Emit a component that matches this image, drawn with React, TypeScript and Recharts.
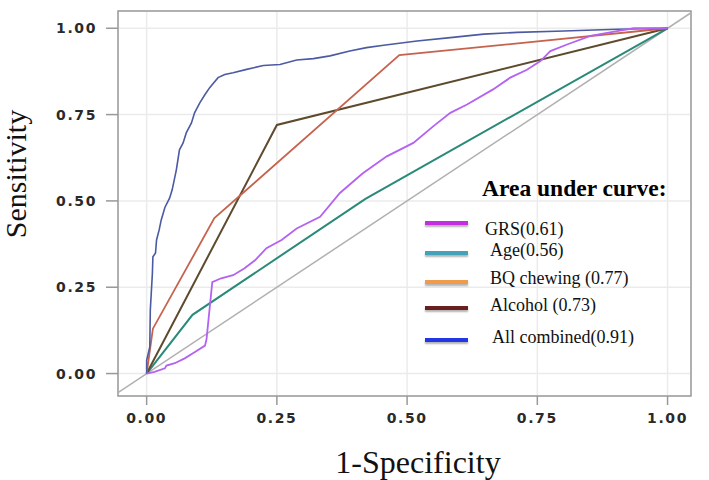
import React from 'react';
import { LineChart, Line, XAxis, YAxis, CartesianGrid, ReferenceArea } from 'recharts';

// ---- data ----
const tickValues = [0, 0.25, 0.5, 0.75, 1];

const allX = [0, 0, 0.006, 0.007, 0.011, 0.012, 0.017, 0.019, 0.024, 0.028, 0.035, 0.044, 0.049, 0.057, 0.063, 0.07, 0.076, 0.086, 0.092, 0.102, 0.112, 0.121, 0.137, 0.15, 0.166, 0.192, 0.224, 0.256, 0.288, 0.32, 0.352, 0.39, 0.422, 0.455, 0.519, 0.583, 0.647, 0.711, 0.801, 0.903, 1];
const allY = [0, 0.038, 0.077, 0.183, 0.29, 0.338, 0.349, 0.387, 0.416, 0.445, 0.481, 0.508, 0.532, 0.59, 0.648, 0.668, 0.697, 0.726, 0.755, 0.784, 0.808, 0.828, 0.857, 0.866, 0.871, 0.881, 0.892, 0.895, 0.908, 0.912, 0.92, 0.934, 0.944, 0.951, 0.963, 0.973, 0.983, 0.988, 0.992, 0.997, 1];

const grsX = [0, 0.015, 0.035, 0.038, 0.054, 0.073, 0.092, 0.112, 0.115, 0.126, 0.143, 0.166, 0.188, 0.208, 0.23, 0.259, 0.288, 0.333, 0.371, 0.415, 0.461, 0.512, 0.55, 0.583, 0.615, 0.665, 0.698, 0.73, 0.756, 0.775, 0.807, 0.852, 0.903, 0.935, 1];
const grsY = [0, 0.005, 0.015, 0.023, 0.03, 0.044, 0.062, 0.081, 0.1, 0.265, 0.276, 0.285, 0.305, 0.328, 0.363, 0.387, 0.42, 0.454, 0.523, 0.58, 0.629, 0.668, 0.716, 0.755, 0.779, 0.823, 0.857, 0.88, 0.905, 0.934, 0.953, 0.978, 0.992, 1, 1];

const ageX = [0, 0.088, 0.42, 1];
const ageY = [0, 0.17, 0.506, 1];

const bqX = [0, 0.012, 0.13, 0.485, 1];
const bqY = [0, 0.13, 0.45, 0.922, 1];

const alcoholX = [0, 0.25, 1];
const alcoholY = [0, 0.72, 1];

const refX = [-0.055, 1.045];
const refY = [-0.055, 1.045];

const legendLabels = ['GRS(0.61)', 'Age(0.56)', 'BQ chewing (0.77)', 'Alcohol (0.73)', 'All combined(0.91)'];
const legendColors = ['#c22ee0', '#42a2b8', '#f09a4c', '#6a1f1f', '#2336e6'];

const zip = (xs: number[], ys: number[]) => xs.map((x, i) => ({ x, y: ys[i] }));

const refData = zip(refX, refY);
const ageData = zip(ageX, ageY);
const grsData = zip(grsX, grsY);
const alcoholData = zip(alcoholX, alcoholY);
const bqData = zip(bqX, bqY);
const allData = zip(allX, allY);

const tickStyle = { fontFamily: '"DejaVu Sans", Verdana, sans-serif', fontSize: 14, fontWeight: 600, fill: '#2a2a2a', letterSpacing: 1.6 };

// legend layout (page pixels)
const swatchTops = [223, 253, 282, 308, 340];
const textCenters = [229, 250, 278, 305, 337];
const textLefts = [485, 490, 490, 490, 492];

const serif = '"Liberation Serif", "Times New Roman", serif';

export default function App() {
  return (
    <div style={{ position: 'absolute', left: 0, top: 0, width: 709, height: 480, background: '#fff' }}>
      <LineChart width={709} height={480} margin={{ top: 11, right: 18, bottom: 54, left: 58 }}>
        <CartesianGrid stroke="#ebebeb" strokeWidth={1.5} />
        <XAxis
          type="number"
          dataKey="x"
          domain={[-0.055, 1.045]}
          ticks={tickValues}
          allowDataOverflow
          tickFormatter={(v: number) => v.toFixed(2)}
          height={30}
          tickSize={9}
          tickMargin={8}
          axisLine={false}
          tickLine={{ stroke: '#999', strokeWidth: 1.5 }}
          tick={tickStyle}
        />
        <YAxis
          type="number"
          dataKey="y"
          domain={[-0.065, 1.05]}
          ticks={tickValues}
          allowDataOverflow
          tickFormatter={(v: number) => v.toFixed(2)}
          width={60}
          tickSize={12}
          tickMargin={9}
          axisLine={false}
          tickLine={{ stroke: '#999', strokeWidth: 1.5 }}
          tick={tickStyle}
        />
        <ReferenceArea x1={-0.055} x2={1.045} y1={-0.065} y2={1.05} fill="none" stroke="#9a9a9a" strokeWidth={1.5} />
        <Line data={refData} dataKey="y" type="linear" dot={false} stroke="#b0b0b0" strokeWidth={1.5} isAnimationActive={false} />
        <Line data={ageData} dataKey="y" type="linear" dot={false} stroke="#2a8a7a" strokeWidth={2} isAnimationActive={false} />
        <Line data={alcoholData} dataKey="y" type="linear" dot={false} stroke="#5e4a2c" strokeWidth={2} isAnimationActive={false} />
        <Line data={bqData} dataKey="y" type="linear" dot={false} stroke="#c6634e" strokeWidth={1.8} isAnimationActive={false} />
        <Line data={allData} dataKey="y" type="linear" dot={false} stroke="#4b5aa2" strokeWidth={1.6} isAnimationActive={false} />
        <Line data={grsData} dataKey="y" type="linear" dot={false} stroke="#b462f2" strokeWidth={1.8} isAnimationActive={false} />
      </LineChart>

      {/* axis titles */}
      <div
        style={{
          position: 'absolute', left: 16 - 100, top: 174 - 16, width: 200, height: 32, lineHeight: '32px',
          textAlign: 'center', fontFamily: serif, fontSize: 30,
          color: '#111', transform: 'rotate(-90deg)', whiteSpace: 'nowrap',
        }}
      >
        Sensitivity
      </div>
      <div
        style={{
          position: 'absolute', left: 418 - 150, top: 446, width: 300, height: 32, lineHeight: '32px',
          textAlign: 'center', fontFamily: serif, fontSize: 32,
          color: '#111', whiteSpace: 'nowrap',
        }}
      >
        1-Specificity
      </div>

      {/* legend */}
      <div
        style={{
          position: 'absolute', left: 482, top: 175, lineHeight: '26px', fontFamily: serif,
          fontSize: 23.5, fontWeight: 'bold', color: '#000', whiteSpace: 'nowrap',
        }}
      >
        Area under curve:
      </div>
      {legendLabels.map((label, i) => (
        <React.Fragment key={label}>
          <div
            style={{
              position: 'absolute', left: 425, top: swatchTops[i] - 2, width: 43, height: 4,
              background: legendColors[i], boxShadow: '0 2px 2px rgba(0,0,0,0.3)',
            }}
          />
          <div
            style={{
              position: 'absolute', left: textLefts[i], top: textCenters[i] - 11, height: 22, lineHeight: '22px',
              fontFamily: serif, fontSize: 18, color: '#111', whiteSpace: 'nowrap',
            }}
          >
            {label}
          </div>
        </React.Fragment>
      ))}
    </div>
  );
}
